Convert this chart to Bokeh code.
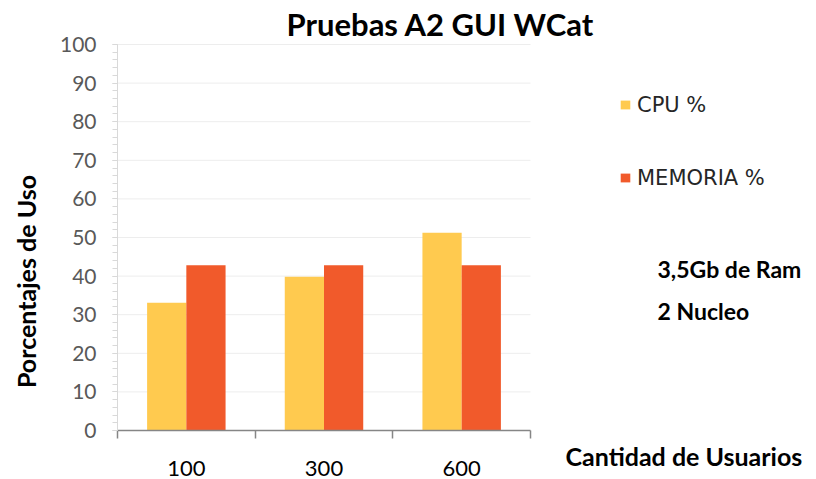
import math
from bokeh.plotting import figure
from bokeh.models import ColumnDataSource, Range1d, FixedTicker, Label, Legend, LegendItem
from bokeh.transform import dodge
from bokeh.embed import file_html
from bokeh.resources import INLINE

# ---- data ----
categories = ["100", "300", "600"]
cpu = [33.1, 39.8, 51.2]
memoria = [42.8, 42.8, 42.8]
series_names = ["CPU %", "MEMORIA %"]
y_ticks = list(range(0, 101, 10))
y_minor = list(range(0, 101, 2))
title_text = "Pruebas A2 GUI WCat"
y_title = "Porcentajes de Uso"
x_title = "Cantidad de Usuarios"
notes = ["3,5Gb de Ram", "2 Nucleo"]

colors = ["#FFCA4F", "#F15A2B"]
FONT = "Lato"

W, H = 816, 479
# plot area in page pixels
PL, PR, PT, PB = 117, 530, 44, 430
n = len(categories)
xs = (PR - PL) / n          # px per category
ys = (PB - PT) / 100.0      # px per percent
x_range = Range1d(-PL / xs, (W - PL) / xs)
y_range = Range1d(-(H - PB) / ys, 100 + PT / ys)

pos = [i + 0.5 for i in range(n)]
src = ColumnDataSource(dict(x=pos, cpu=cpu, mem=memoria))

p = figure(width=W, height=H, output_backend="svg", toolbar_location=None,
           x_range=x_range, y_range=y_range, min_border=0)
p.outline_line_color = None
p.background_fill_color = "white"
p.border_fill_color = "white"
p.xgrid.visible = False
p.ygrid.visible = False

# horizontal gridlines limited to the plot area
grid_src = ColumnDataSource(dict(y=y_ticks[1:], x0=[0] * (len(y_ticks) - 1),
                                 x1=[n] * (len(y_ticks) - 1)))
p.segment(x0="x0", x1="x1", y0="y", y1="y", source=grid_src,
          line_color="#ededed", line_width=1)

bw = 0.285
r1 = p.vbar(x=dodge("x", -bw / 2), top="cpu", width=bw, source=src,
            fill_color=colors[0], line_color=None)
r2 = p.vbar(x=dodge("x", bw / 2), top="mem", width=bw, source=src,
            fill_color=colors[1], line_color=None)

# x axis
xa = p.xaxis[0]
xa.fixed_location = 0
xa.bounds = (0, n)
xa.ticker = FixedTicker(ticks=pos, minor_ticks=list(range(n + 1)))
xa.major_label_overrides = {pos[i]: categories[i] for i in range(n)}
xa.major_tick_out = 0
xa.major_tick_in = 0
xa.major_tick_line_color = None
xa.minor_tick_out = 8
xa.minor_tick_in = 0
xa.minor_tick_line_color = "#868686"
xa.minor_tick_line_width = 1.5
xa.axis_line_color = "#868686"
xa.axis_line_width = 1.5
xa.major_label_standoff = 22
xa.major_label_text_font = FONT
xa.major_label_text_font_size = "22px"
xa.major_label_text_color = "#000000"

# y axis
ya = p.yaxis[0]
ya.fixed_location = 0
ya.bounds = (0, 100)
ya.ticker = FixedTicker(ticks=y_ticks, minor_ticks=y_minor)
ya.axis_line_color = "#d9d9d9"
ya.major_tick_out = 5
ya.major_tick_in = 0
ya.minor_tick_out = 5
ya.minor_tick_in = 0
ya.major_tick_line_color = "#d9d9d9"
ya.minor_tick_line_color = "#d9d9d9"
ya.major_label_standoff = 16
ya.major_label_text_font = FONT
ya.major_label_text_font_size = "21px"
ya.major_label_text_color = "#595959"

def lab(text, px, py, size, bold=True, align="left", angle=0.0, color="#000000"):
    p.add_layout(Label(x=px, y=H - py, x_units="screen", y_units="screen",
                       text=text, text_font=FONT, text_font_size=size,
                       text_font_style="bold" if bold else "normal",
                       text_align=align, text_baseline="middle",
                       angle=angle, text_color=color))

lab(title_text, 440, 23, "31px", align="center")
lab(y_title, 25, 281, "25px", align="center", angle=math.pi / 2)
lab(x_title, 565, 455, "25px")
lab(notes[0], 657, 268, "23px")
lab(notes[1], 657, 310, "23px")

legend = Legend(items=[LegendItem(label=series_names[0], renderers=[r1]),
                       LegendItem(label=series_names[1], renderers=[r2])],
                location=(619, H - 190), orientation="vertical", padding=0, margin=0,
                border_line_color=None, background_fill_alpha=0,
                glyph_width=12, glyph_height=11, label_standoff=6,
                label_text_font="DejaVu Sans", label_text_font_size="21px",
                label_text_color="#262626", label_height=25, spacing=48)
p.add_layout(legend, "center")

open("out.html", "w").write(file_html(p, INLINE))
